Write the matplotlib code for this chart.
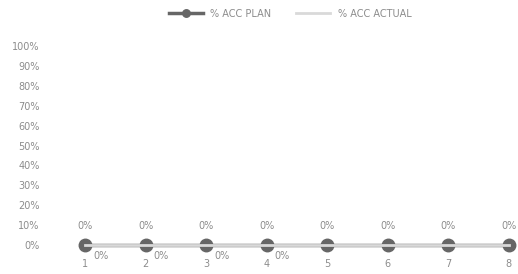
import matplotlib.pyplot as plt
import matplotlib.ticker as ticker

weeks = [1, 2, 3, 4, 5, 6, 7, 8]
acc_plan = [0, 0, 0, 0, 0, 0, 0, 0]
acc_actual = [0, 0, 0, 0, 0, 0, 0, 0]
actual_labelled = 4  # only the first weeks carry an actual label

text_col = '#8c8c8c'

fig = plt.figure(figsize=(5.18, 2.74), dpi=100)
ax = fig.add_axes([55 / 518, 29 / 274, 463 / 518, 199 / 274])

ax.plot(weeks, acc_plan, color='#666666', linewidth=2.5, marker='o',
        markersize=9, label='% ACC PLAN', zorder=3, clip_on=False)
ax.plot(weeks, acc_actual, color='#d9d9d9', linewidth=2, label='% ACC ACTUAL',
        zorder=4, clip_on=False)

# data labels
for x, v in zip(weeks, acc_plan):
    ax.annotate(f'{v:.0%}', (x, v), xytext=(0, 10), textcoords='offset points',
                ha='center', va='bottom', fontsize=7, color=text_col)
for x, v in zip(weeks[:actual_labelled], acc_actual[:actual_labelled]):
    ax.annotate(f'{v:.0%}', (x, v), xytext=(11, -4), textcoords='offset points',
                ha='center', va='top', fontsize=7, color=text_col)

ax.set_xlim(0.5, 8.15)
ax.set_ylim(0, 1)
ax.set_xticks(weeks)
ax.set_yticks([i / 10 for i in range(11)])
ax.yaxis.set_major_formatter(ticker.FuncFormatter(lambda y, _: f'{y:.0%}'))
ax.tick_params(axis='both', length=0, labelsize=7, colors=text_col)
ax.tick_params(axis='y', pad=11)
ax.tick_params(axis='x', pad=10)
for s in ax.spines.values():
    s.set_visible(False)

fig.legend(loc='upper center', bbox_to_anchor=(0.56, 1.0), ncol=2, frameon=False,
           fontsize=7, labelcolor=text_col, handlelength=3.5, columnspacing=2.5,
           markerscale=0.6)

fig.savefig('out.png', dpi=100, facecolor='white')
